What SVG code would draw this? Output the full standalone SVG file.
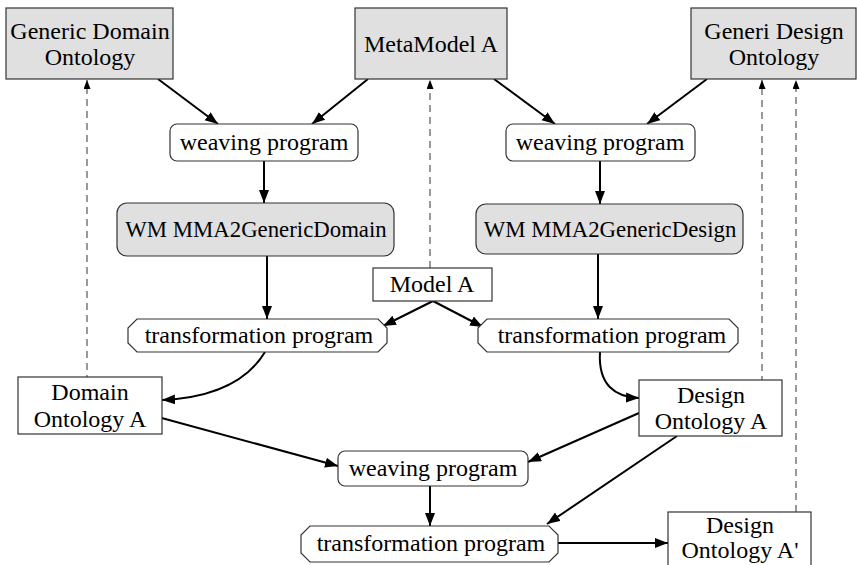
<svg xmlns="http://www.w3.org/2000/svg" width="857" height="565" viewBox="0 0 857 565">
  <style>
    text { font-family: "Liberation Serif", "Times New Roman", serif; font-size: 24px; fill: #000; text-anchor: middle; }
    .grey { fill: #e0e0e0; stroke: #333; stroke-width: 1.2; }
    .plain { fill: #fff; stroke: #333; stroke-width: 1.2; }
    .wm { font-size: 22.8px; }
    .edge { fill: none; stroke: #000; stroke-width: 2; marker-end: url(#arrow); }
    .dash { fill: none; stroke: #555; stroke-width: 1.2; stroke-dasharray: 7 5; marker-end: url(#arrow-small); }
  </style>
  <defs>
    <marker id="arrow" markerUnits="userSpaceOnUse" markerWidth="14" markerHeight="12" refX="13" refY="5" orient="auto">
      <path d="M0,0 L13,5 L0,10 z" fill="#000"/>
    </marker>
    <marker id="arrow-small" markerUnits="userSpaceOnUse" markerWidth="10" markerHeight="8" refX="9" refY="3.5" orient="auto">
      <path d="M0,0 L9,3.5 L0,7 z" fill="#000"/>
    </marker>
  </defs>

  <rect width="857" height="565" fill="#fff"/>

  <!-- connectors -->
  <g id="connectors">
    <path class="edge" d="M158,79 L218,124"/>
    <path class="edge" d="M368,79 L312,124"/>
    <path class="edge" d="M494,79 L555,124"/>
    <path class="edge" d="M707,79 L647,124"/>
    <path class="edge" d="M264,161 L264,203"/>
    <path class="edge" d="M600,161 L600,204"/>
    <path class="edge" d="M267,256 L267,319"/>
    <path class="edge" d="M598,254 L598,319"/>
    <path class="edge" d="M433,301 L383,326"/>
    <path class="edge" d="M433,301 L483,327"/>
    <path class="edge" d="M265,352 C245,385 205,398 162,400"/>
    <path class="edge" d="M600,352 C598,385 615,397 639,398"/>
    <path class="edge" d="M158,417 L338,466"/>
    <path class="edge" d="M639,413 L528,462"/>
    <path class="edge" d="M677,436 L547,524"/>
    <path class="edge" d="M430,486 L430,526"/>
    <path class="edge" d="M558,543 L668,543"/>
    <path class="dash" d="M430,268 L430,80"/>
    <path class="dash" d="M87,382 L87,80"/>
    <path class="dash" d="M762,383 L762,80"/>
    <path class="dash" d="M796,512 L796,80"/>
  </g>

  <!-- top row: source ontologies and metamodel -->
  <g id="generic-domain-ontology">
    <rect class="grey" x="6" y="8" width="167" height="71"/>
    <text x="90" y="39">Generic Domain</text>
    <text x="90" y="65">Ontology</text>
  </g>
  <g id="metamodel-a">
    <rect class="grey" x="355" y="8" width="152" height="71"/>
    <text x="431" y="52">MetaModel A</text>
  </g>
  <g id="generic-design-ontology">
    <rect class="grey" x="691" y="8" width="165" height="71"/>
    <text x="774" y="39">Generi Design</text>
    <text x="774" y="65">Ontology</text>
  </g>

  <!-- weaving programs -->
  <g id="weaving-program-1">
    <rect class="plain" x="170" y="124" width="188" height="37" rx="7"/>
    <text x="264" y="150">weaving program</text>
  </g>
  <g id="weaving-program-2">
    <rect class="plain" x="506" y="124" width="189" height="37" rx="7"/>
    <text x="600" y="150">weaving program</text>
  </g>

  <!-- weaving models -->
  <g id="wm-mma2genericdomain">
    <rect class="grey" x="117" y="203" width="277" height="53" rx="10"/>
    <text class="wm" x="256" y="237">WM MMA2GenericDomain</text>
  </g>
  <g id="wm-mma2genericdesign">
    <rect class="grey" x="476" y="204" width="267" height="50" rx="10"/>
    <text class="wm" x="610" y="237">WM MMA2GenericDesign</text>
  </g>

  <!-- source model -->
  <g id="model-a">
    <rect class="plain" x="373" y="268" width="119" height="33"/>
    <text x="432" y="292">Model A</text>
  </g>

  <!-- transformation programs -->
  <g id="transformation-program-1">
    <polygon class="plain" points="137,319 378,319 387,328 387,343 378,352 137,352 128,343 128,328"/>
    <text x="259" y="343">transformation program</text>
  </g>
  <g id="transformation-program-2">
    <polygon class="plain" points="487,319 729,319 738,328 738,343 729,352 487,352 478,343 478,328"/>
    <text x="612" y="343">transformation program</text>
  </g>

  <!-- derived ontologies -->
  <g id="domain-ontology-a">
    <rect class="plain" x="18" y="377" width="144" height="57"/>
    <text x="90" y="400">Domain</text>
    <text x="90" y="427">Ontology A</text>
  </g>
  <g id="design-ontology-a">
    <rect class="plain" x="639" y="380" width="143" height="56"/>
    <text x="711" y="403">Design</text>
    <text x="711" y="429">Ontology A</text>
  </g>

  <!-- second pass -->
  <g id="weaving-program-3">
    <rect class="plain" x="338" y="451" width="190" height="35" rx="7"/>
    <text x="433" y="476">weaving program</text>
  </g>
  <g id="transformation-program-3">
    <polygon class="plain" points="310,526 549,526 558,535 558,553 549,562 310,562 301,553 301,535"/>
    <text x="431" y="551">transformation program</text>
  </g>
  <g id="design-ontology-a-prime">
    <rect class="plain" x="668" y="512" width="143" height="60"/>
    <text x="740" y="533">Design</text>
    <text x="740" y="558">Ontology A'</text>
  </g>
</svg>
